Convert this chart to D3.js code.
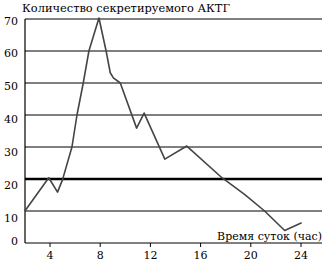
<!DOCTYPE html>
<html lang="ru">
<head>
  <meta charset="UTF-8">
  <title>Количество секретируемого АКТГ</title>
  <style>
    body { margin: 0; background: #fff; }
    text { font-family: "DejaVu Serif", "Liberation Serif", serif; fill: #000; }
  </style>
</head>
<body>
  <svg width="329" height="266"></svg>
  <script src="https://d3js.org/d3.v7.min.js"></script>
  <script>

// hours of the day and secreted ACTH
const hours  = [2, 3.9, 4.6, 5.0, 5.75, 6.15, 6.65, 7.1, 7.9, 8.45, 8.8, 9.05, 9.6, 10.9, 11.5, 13.15, 14.9, 17.7, 19.5, 21.1, 22.7, 24.05];
const values = [10, 20.4, 15.9, 19.8, 30, 40, 50, 60, 70.3, 60.4, 53.2, 51.6, 50, 35.9, 40.6, 26.2, 30.3, 20.4, 15.2, 10, 3.9, 6.3];

const yTicks = [0, 10, 20, 30, 40, 50, 60, 70];
const xTicks = [4, 8, 12, 16, 20, 24];
const normLevel = 20;

const yTitle = "Количество секретируемого АКТГ";
const xTitle = "Время суток (час)";

const svg = d3.select("svg");

const plotL = 25, plotR = 322, plotT = 19, plotB = 243;

const x = d3.scaleLinear().domain([4, 24]).range([50, 301]);
const y = d3.scaleLinear().domain([0, 70]).range([plotB, plotT]);
// labels in the scan sit a bit below their lines
const yLab = d3.scaleLinear().domain([0, 10, 70]).range([244.5, 222, 24.5]);

// horizontal grid lines
svg.append("g")
  .selectAll("line")
  .data(yTicks.filter(d => d > 0))
  .join("line")
  .attr("x1", plotL)
  .attr("x2", plotR)
  .attr("y1", d => y(d))
  .attr("y2", d => y(d))
  .attr("stroke", "#000")
  .attr("stroke-width", d => d === normLevel ? 2.6 : 1.1);

// axes
svg.append("line")
  .attr("x1", plotL).attr("x2", plotL)
  .attr("y1", plotT).attr("y2", plotB)
  .attr("stroke", "#000").attr("stroke-width", 1.2);
svg.append("line")
  .attr("x1", plotL).attr("x2", plotR)
  .attr("y1", plotB).attr("y2", plotB)
  .attr("stroke", "#000").attr("stroke-width", 1.2);

svg.append("g")
  .selectAll("line")
  .data(xTicks)
  .join("line")
  .attr("x1", d => x(d)).attr("x2", d => x(d))
  .attr("y1", plotB).attr("y2", plotB + 4)
  .attr("stroke", "#000");

// tick labels
svg.append("g")
  .selectAll("text")
  .data(yTicks)
  .join("text")
  .attr("x", 18)
  .attr("y", d => yLab(d))
  .attr("text-anchor", "end")
  .style("font-size", "11px")
  .text(d => d);

svg.append("g")
  .selectAll("text")
  .data(xTicks)
  .join("text")
  .attr("x", d => x(d))
  .attr("y", 259)
  .attr("text-anchor", "middle")
  .style("font-size", "11px")
  .text(d => d);

// titles
svg.append("text")
  .attr("x", 22)
  .attr("y", 12)
  .style("font-size", "11.4px")
  .text(yTitle);

svg.append("text")
  .attr("x", 322)
  .attr("y", 240)
  .attr("text-anchor", "end")
  .style("font-size", "11px")
  .text(xTitle);

// the curve
const line = d3.line()
  .x((d, i) => x(hours[i]))
  .y(d => y(d));

svg.append("path")
  .datum(values)
  .attr("fill", "none")
  .attr("stroke", "#444")
  .attr("stroke-width", 1.6)
  .attr("stroke-linejoin", "round")
  .attr("d", line);

  </script>
</body>
</html>
